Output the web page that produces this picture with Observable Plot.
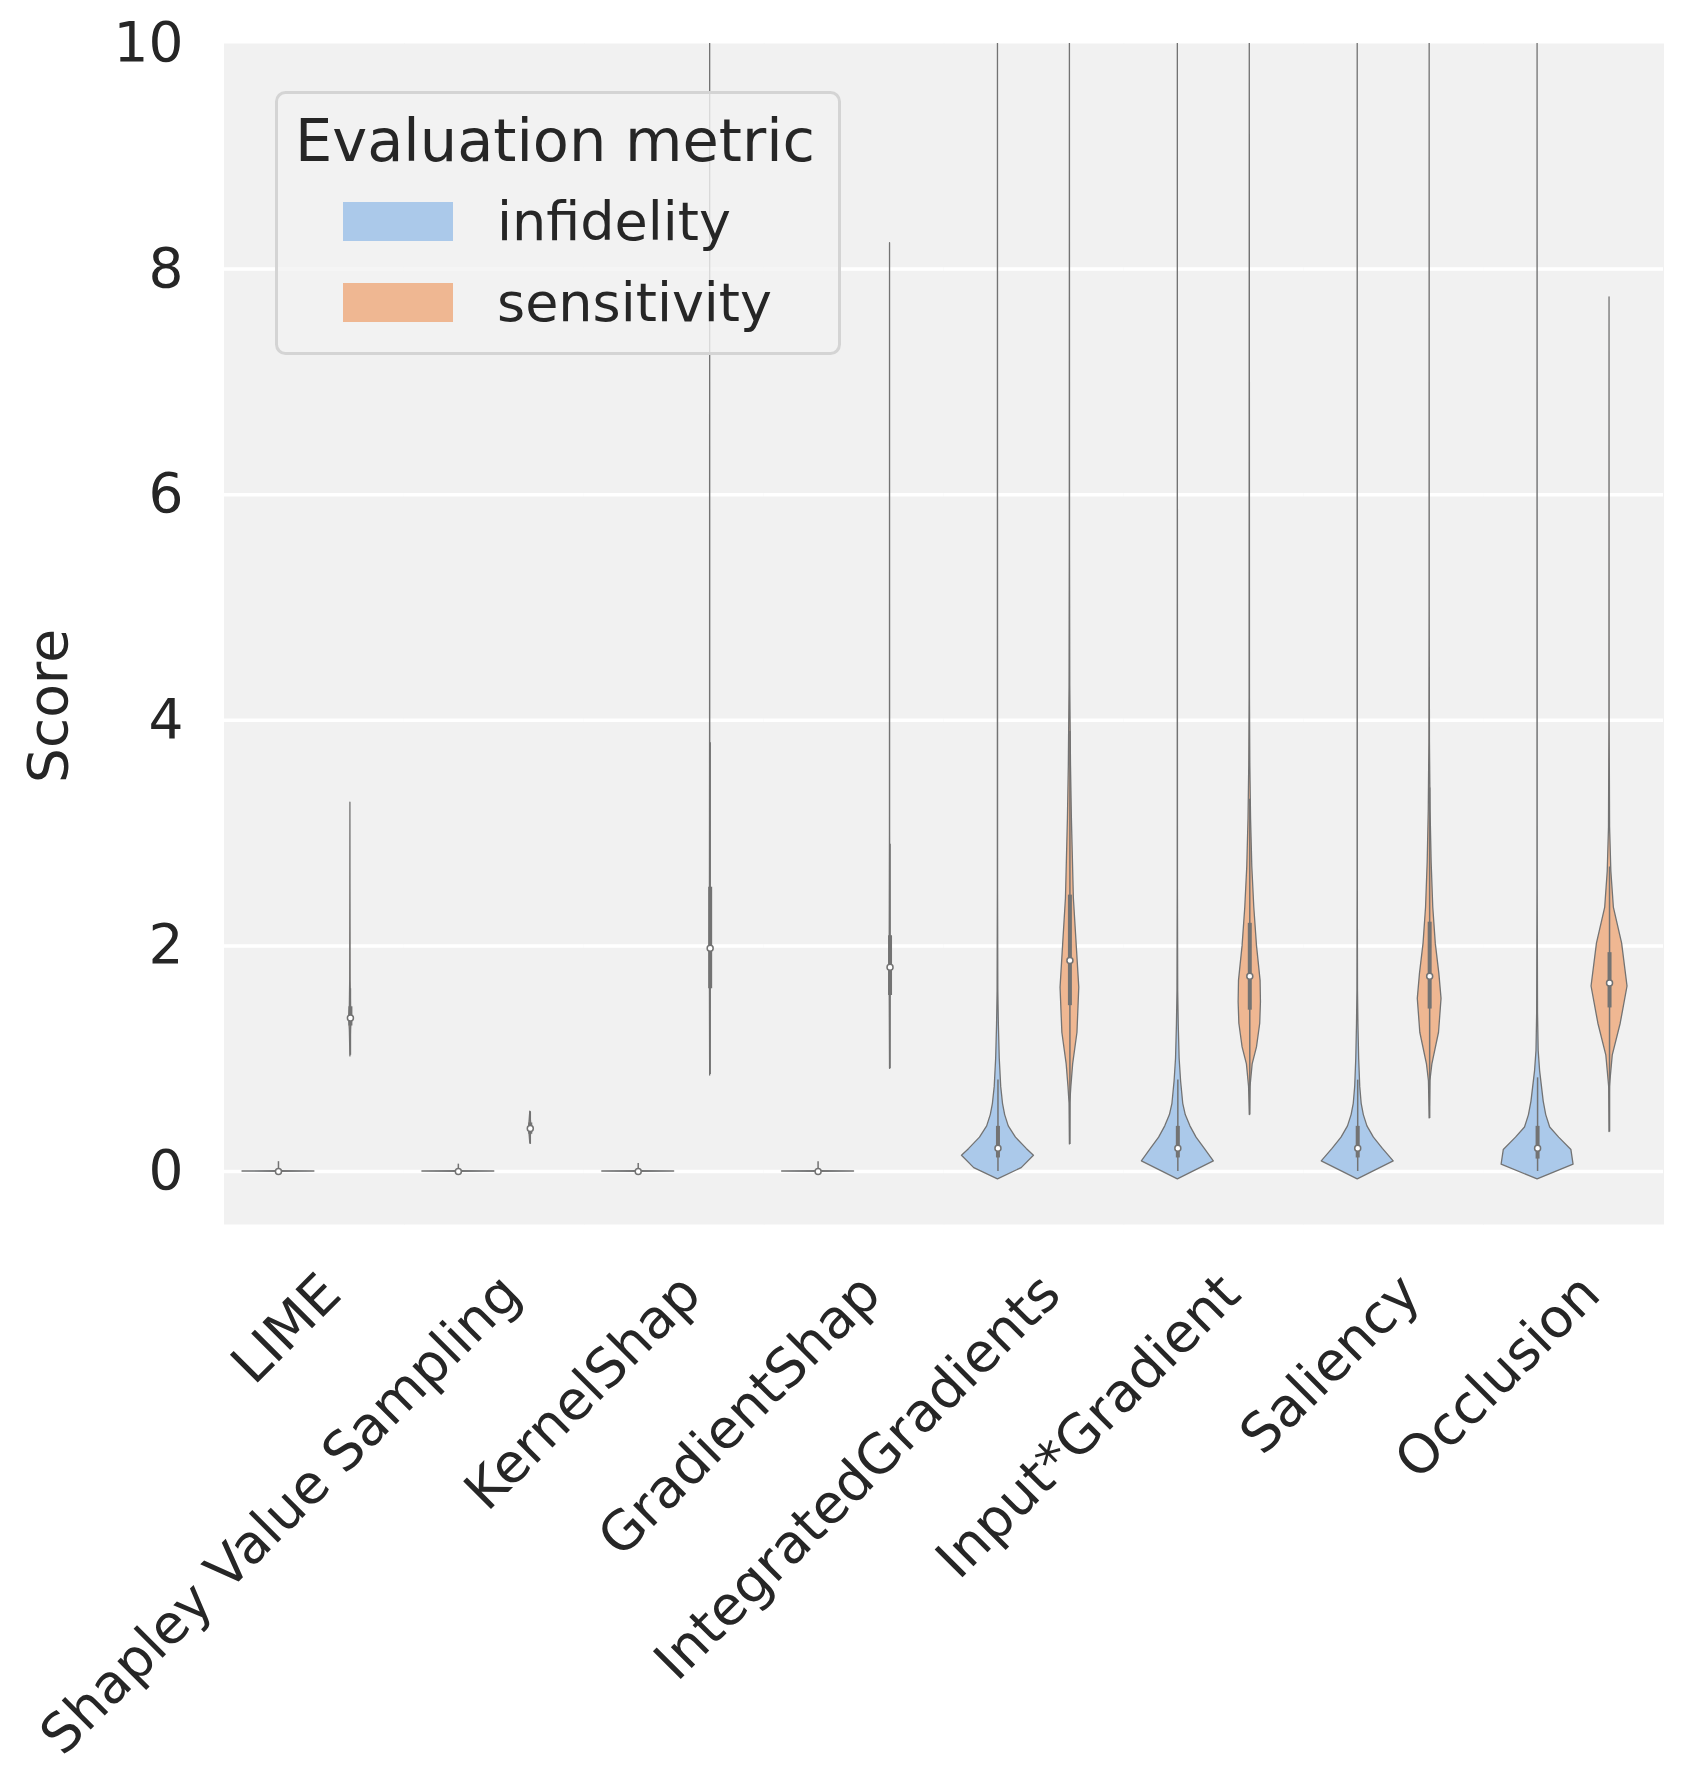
<!DOCTYPE html>
<html>
<head>
<meta charset="utf-8">
<script src="https://cdn.jsdelivr.net/npm/d3@7"></script>
<script src="https://cdn.jsdelivr.net/npm/@observablehq/plot@0.6"></script>
<style>
  html, body { margin: 0; padding: 0; background: #ffffff; }
  #chart { width: 1693px; height: 1781px; }
</style>
</head>
<body>
<div id="chart"></div>
<script>
// ---------------- data ----------------
const methods = ["LIME", "Shapley Value Sampling", "KernelShap", "GradientShap",
                 "IntegratedGradients", "Input*Gradient", "Saliency", "Occlusion"];
const metrics = ["infidelity", "sensitivity"];
const metricColors = ["#abc9ea", "#efb792"];
const yTicks = [0, 2, 4, 6, 8, 10];

// violin outlines: [score, relative half-width]
const limeInf = [[-0.004, 0], [0, 1], [0.004, 0]];
const svsInf  = [[-0.004, 0], [0, 1], [0.004, 0]];
const ksInf   = [[-0.004, 0], [0, 1], [0.004, 0]];
const gsInf   = [[-0.004, 0], [0, 1], [0.004, 0]];
const igInf   = [[-0.07, 0], [0.03, 0.66], [0.14, 1], [0.2, 0.8], [0.3, 0.5], [0.4, 0.3], [0.5, 0.2], [0.6, 0.14], [0.75, 0.09], [1.0, 0.05], [1.3, 0.025], [1.6, 0.01], [2.5, 0.003], [10.6, 0]];
const ixgInf  = [[-0.07, 0], [0.09, 1], [0.2, 0.75], [0.3, 0.52], [0.4, 0.35], [0.5, 0.22], [0.6, 0.15], [0.8, 0.09], [1.0, 0.05], [1.3, 0.025], [1.6, 0.01], [2.5, 0.003], [10.6, 0]];
const salInf  = [[-0.07, 0], [0.09, 1], [0.2, 0.7], [0.3, 0.45], [0.4, 0.27], [0.5, 0.17], [0.6, 0.11], [0.75, 0.07], [1.0, 0.04], [1.3, 0.02], [1.6, 0.008], [2.5, 0.003], [10.6, 0]];
const occInf  = [[-0.07, 0], [0.06, 1], [0.19, 0.94], [0.3, 0.6], [0.39, 0.35], [0.5, 0.24], [0.62, 0.17], [0.89, 0.07], [1.07, 0.03], [1.4, 0.012], [2.5, 0.003], [10.6, 0]];

const limeSens = [[1.02, 0], [1.25, 0.015], [1.36, 0.035], [1.47, 0.015], [1.7, 0.006], [2.5, 0.002], [3.27, 0]];
const svsSens  = [[0.25, 0], [0.33, 0.02], [0.38, 0.035], [0.44, 0.02], [0.53, 0]];
const ksSens   = [[0.85, 0], [1.6, 0.006], [2.0, 0.01], [2.5, 0.006], [4.0, 0.002], [10.6, 0]];
const gsSens   = [[0.91, 0], [1.55, 0.008], [1.8, 0.014], [2.1, 0.008], [3.0, 0.002], [8.23, 0]];
const igSens   = [[0.24, 0], [0.6, 0.01], [0.75, 0.04], [0.95, 0.09], [1.23, 0.21], [1.63, 0.26], [2.0, 0.19], [2.42, 0.11], [3.13, 0.055], [3.6, 0.03], [4.3, 0.01], [5.5, 0.003], [10.6, 0]];
const ixgSens  = [[0.5, 0], [0.75, 0.02], [0.95, 0.08], [1.1, 0.2], [1.31, 0.29], [1.5, 0.31], [1.69, 0.3], [2.0, 0.2], [2.34, 0.125], [2.7, 0.07], [3.13, 0.035], [3.6, 0.015], [4.2, 0.005], [10.6, 0]];
const salSens  = [[0.47, 0], [0.8, 0.02], [0.95, 0.075], [1.23, 0.26], [1.53, 0.33], [1.75, 0.27], [2.02, 0.17], [2.34, 0.1], [2.74, 0.055], [3.2, 0.025], [3.8, 0.008], [5.0, 0.002], [10.6, 0]];
const occSens  = [[0.35, 0], [0.75, 0.01], [1.03, 0.09], [1.31, 0.31], [1.64, 0.5], [2.02, 0.35], [2.34, 0.12], [2.66, 0.05], [3.05, 0.015], [4.0, 0.003], [7.75, 0]];

const infProfiles  = [limeInf, svsInf, ksInf, gsInf, igInf, ixgInf, salInf, occInf];
const sensProfiles = [limeSens, svsSens, ksSens, gsSens, igSens, ixgSens, salSens, occSens];

// inner box statistics
const infMedian   = [0, 0, 0, 0, 0.206, 0.206, 0.206, 0.206];
const infQ1       = [0, 0, 0, 0, 0.12, 0.12, 0.12, 0.11];
const infQ3       = [0, 0, 0, 0, 0.40, 0.40, 0.40, 0.40];
const infWhiskLo  = [0, 0, 0, 0, 0, 0, 0, 0];
const infWhiskHi  = [0.087, 0.065, 0.07, 0.087, 0.81, 0.81, 0.81, 0.83];
const sensMedian  = [1.36, 0.38, 1.98, 1.81, 1.87, 1.73, 1.73, 1.67];
const sensQ1      = [1.29, 0.33, 1.62, 1.56, 1.47, 1.43, 1.44, 1.45];
const sensQ3      = [1.46, 0.43, 2.52, 2.09, 2.45, 2.20, 2.21, 1.94];
const sensWhiskLo = [1.03, 0.24, 0.86, 0.91, 0.24, 0.50, 0.47, 0.35];
const sensWhiskHi = [1.62, 0.53, 3.8, 2.9, 3.9, 3.3, 3.4, 2.7];

// ---------------- build tables ----------------
const offset = {infidelity: -0.2, sensitivity: 0.2};
const halfMax = 0.2;
const outline = [];
methods.forEach((m, i) => {
  infProfiles[i].forEach(([s, w]) => outline.push({method: m, metric: "infidelity", score: s, w}));
  sensProfiles[i].forEach(([s, w]) => outline.push({method: m, metric: "sensitivity", score: s, w}));
});
const stats = [];
methods.forEach((m, i) => {
  stats.push({method: m, metric: "infidelity", med: infMedian[i], q1: infQ1[i], q3: infQ3[i], lo: infWhiskLo[i], hi: infWhiskHi[i]});
  stats.push({method: m, metric: "sensitivity", med: sensMedian[i], q1: sensQ1[i], q3: sensQ3[i], lo: sensWhiskLo[i], hi: sensWhiskHi[i]});
});

const edge = "#737373";
const font = "DejaVu Sans";

const chart = Plot.plot({
  width: 1693,
  height: 1781,
  marginLeft: 224,
  marginRight: 30,
  marginTop: 43,
  marginBottom: 557,
  style: {fontFamily: font, color: "#262626", background: "#ffffff", overflow: "visible"},
  fx: {domain: methods, padding: 0, round: false, label: null},
  x: {domain: [-0.5, 0.5], axis: null},
  y: {domain: [-0.47, 10]},
  color: {domain: metrics, range: metricColors},
  marks: [
    Plot.frame({fill: "#f1f1f1", insetLeft: -0.5, insetRight: -0.5}),
    Plot.gridY([0, 2, 4, 6, 8], {stroke: "#ffffff", strokeOpacity: 1, strokeWidth: 3.5}),
    Plot.areaX(outline, {
      fx: "method", y: "score", z: "metric",
      x1: d => offset[d.metric] - halfMax * d.w,
      x2: d => offset[d.metric] + halfMax * d.w,
      fill: "metric", stroke: edge, strokeWidth: 1.3, curve: "linear", clip: true
    }),
    Plot.ruleX(stats, {fx: "method", x: d => offset[d.metric], y1: "lo", y2: "hi", stroke: edge, strokeWidth: 1.5}),
    Plot.ruleX(stats, {fx: "method", x: d => offset[d.metric], y1: "q1", y2: "q3", stroke: edge, strokeWidth: 4}),
    Plot.dot(stats, {fx: "method", x: d => offset[d.metric], y: "med", r: 3, fill: "#ffffff", stroke: edge, strokeWidth: 1.5}),
    Plot.axisY(yTicks, {tickSize: 0, tickPadding: 41, fontSize: 55, label: null, tickFormat: d3.format("d")}),
    Plot.axisFx({anchor: "bottom", tickRotate: -45, tickSize: 0, tickPadding: 60, fontSize: 54, label: null, dx: 17})
  ]
});

document.getElementById("chart").appendChild(chart);

// ---------------- axis title and legend ----------------
const svg = d3.select(chart);
svg.append("text")
  .attr("transform", "translate(67,706) rotate(-90)")
  .attr("text-anchor", "middle")
  .attr("font-family", font)
  .attr("font-size", 55)
  .attr("fill", "#262626")
  .text("Score");

const lg = svg.append("g").attr("class", "legend").attr("text-anchor", "start");
lg.append("rect")
  .attr("x", 276.5).attr("y", 92.5).attr("width", 563).attr("height", 261).attr("rx", 9)
  .attr("fill", "#f2f2f2").attr("fill-opacity", 0.8)
  .attr("stroke", "#d4d4d4").attr("stroke-width", 3);
lg.append("text")
  .attr("x", 295).attr("y", 161).attr("text-anchor", "start")
  .attr("font-family", font).attr("font-size", 59).attr("fill", "#262626")
  .text("Evaluation metric");
const swatchY = [202, 283];
const labelY = [240, 321];
metrics.forEach((m, i) => {
  lg.append("rect")
    .attr("x", 343).attr("y", swatchY[i]).attr("width", 110).attr("height", 39)
    .attr("fill", metricColors[i]);
  lg.append("text")
    .attr("x", 497).attr("y", labelY[i]).attr("text-anchor", "start")
    .attr("font-family", font).attr("font-size", 54).attr("fill", "#262626")
    .text(m);
});
</script>
</body>
</html>
